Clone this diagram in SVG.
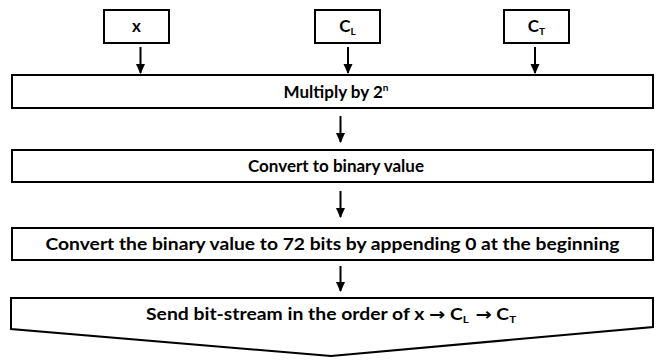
<svg xmlns="http://www.w3.org/2000/svg" width="662" height="360" viewBox="0 0 662 360">
<style>
.box{fill:#fff;stroke:#000;stroke-width:2}
.t{font-family:Lato,"Open Sans","Liberation Sans",sans-serif;font-weight:700;font-size:17px;fill:#000;text-anchor:middle}
.sub{font-size:10px}
.arr{font-family:"DejaVu Sans",sans-serif;font-weight:700}
.conn line{stroke:#000;stroke-width:2}
</style>
<defs>
<marker id="ah" markerWidth="10" markerHeight="10" refX="9" refY="5" orient="auto" markerUnits="userSpaceOnUse">
<path d="M0,0.5 L10,5 L0,9.5 Z" fill="#000"/>
</marker>
</defs>
<g id="n-x"><rect class="box" x="104" y="10" width="65" height="33"/><text class="t" x="136.5" y="32">x</text></g>
<g id="n-cl"><rect class="box" x="315" y="10" width="65" height="33"/><text class="t" x="347.5" y="32">C<tspan class="sub" dy="3">L</tspan></text></g>
<g id="n-ct"><rect class="box" x="504" y="10" width="65" height="33"/><text class="t" x="536.5" y="32">C<tspan class="sub" dy="3">T</tspan></text></g>
<g id="n-mult"><rect class="box" x="12" y="75" width="641" height="33"/><text class="t" x="336" y="98">Multiply by 2<tspan class="sub" dy="-7">n</tspan></text></g>
<g id="n-bin"><rect class="box" x="12" y="150" width="641" height="32"/><text class="t" x="336" y="172">Convert to binary value</text></g>
<g id="n-72"><rect class="box" x="12" y="228" width="641" height="32"/><text class="t" x="332.5" y="250" textLength="574" lengthAdjust="spacingAndGlyphs">Convert the binary value to 72 bits by appending 0 at the beginning</text></g>
<g id="n-send"><path class="box" d="M11,298 L653,298 L653,327 L331,356 L11,329 Z"/><text class="t" x="331" y="320" textLength="370" lengthAdjust="spacingAndGlyphs">Send bit-stream in the order of x <tspan class="arr">→</tspan> C<tspan class="sub" dy="3">L</tspan><tspan dy="-3" class="arr"> →</tspan><tspan> C</tspan><tspan class="sub" dy="3">T</tspan></text></g>
<g class="conn" id="connectors">
<line x1="140.5" y1="47" x2="140.5" y2="73" marker-end="url(#ah)"/>
<line x1="348" y1="47" x2="348" y2="73" marker-end="url(#ah)"/>
<line x1="535" y1="47" x2="535" y2="73" marker-end="url(#ah)"/>
<line x1="340.5" y1="116" x2="340.5" y2="142" marker-end="url(#ah)"/>
<line x1="340.5" y1="191" x2="340.5" y2="217" marker-end="url(#ah)"/>
<line x1="340.5" y1="266" x2="340.5" y2="291" marker-end="url(#ah)"/>
</g>
</svg>
